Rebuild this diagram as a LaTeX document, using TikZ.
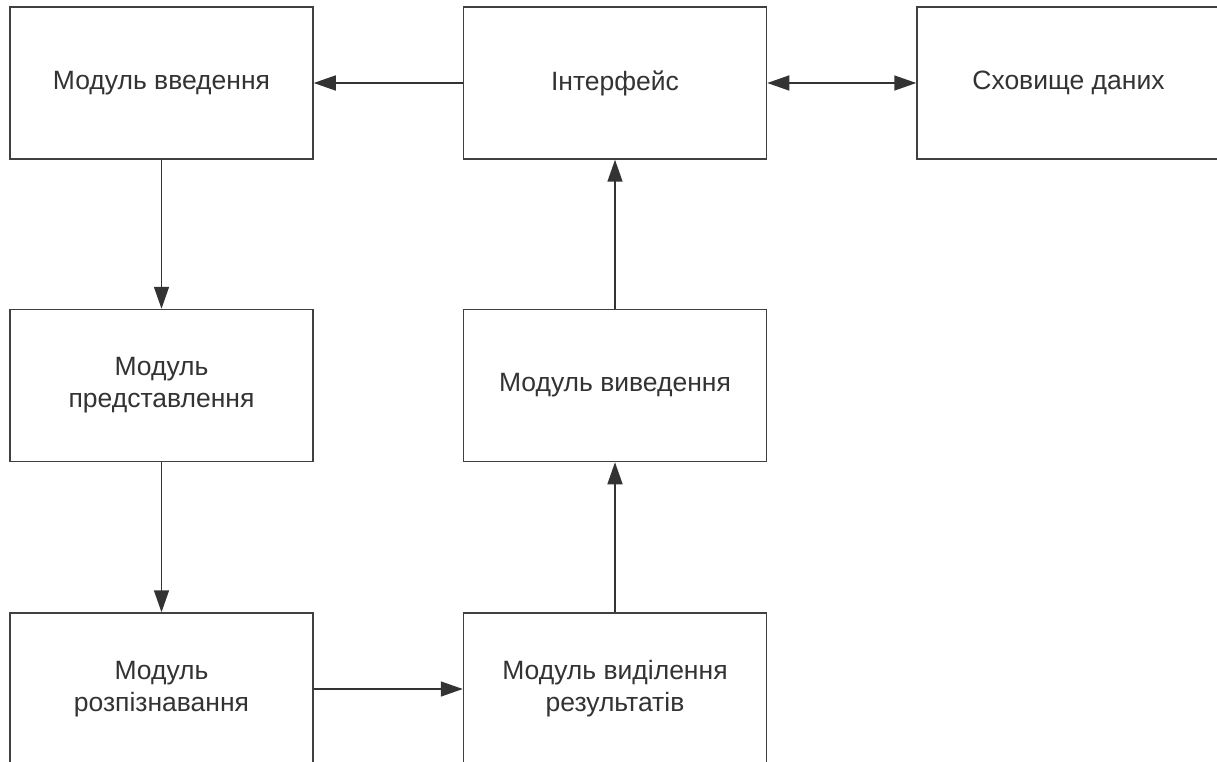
\documentclass[tikz,border=0pt]{standalone}
\usepackage{fontspec}
\setmainfont{Liberation Sans}
\usetikzlibrary{arrows.meta}
\begin{document}
\begin{tikzpicture}[x=1pt,y=-1pt,
  box/.style={draw=black!75, line width=1.5pt, minimum width=303pt, minimum height=152pt,
    inner sep=0pt, align=center, font=\fontsize{26.5}{32}\selectfont, text=black!80},
  conn/.style={draw=black!80, line width=1.5pt, -{Triangle[length=22pt,width=15pt]}},
  biconn/.style={draw=black!80, line width=1.5pt, {Triangle[length=22pt,width=15pt]}-{Triangle[length=22pt,width=15pt]}}]
\useasboundingbox (0,0) rectangle (1217,762);
\fill[white] (0,0) rectangle (1217,762);
\node[box] (in)  at (161.5,83)  {Модуль введення};
\node[box] (ui)  at (615,83)    {Інтерфейс};
\node[box] (db)  at (1068.5,83) {Сховище даних};
\node[box] (rep) at (161.5,385.5) {Модуль\\представлення};
\node[box] (out) at (615,385.5)   {Модуль виведення};
\node[box] (rec) at (161.5,689) {Модуль\\розпізнавання};
\node[box] (sel) at (615,689)   {Модуль виділення\\результатів};
\draw[conn] (ui.west) -- (in.east);
\draw[biconn] (ui.east) -- (db.west);
\draw[conn] (in.south) -- (rep.north);
\draw[conn] (rep.south) -- (rec.north);
\draw[conn] (rec.east) -- (sel.west);
\draw[conn] (sel.north) -- (out.south);
\draw[conn] (out.north) -- (ui.south);
\end{tikzpicture}
\end{document}
